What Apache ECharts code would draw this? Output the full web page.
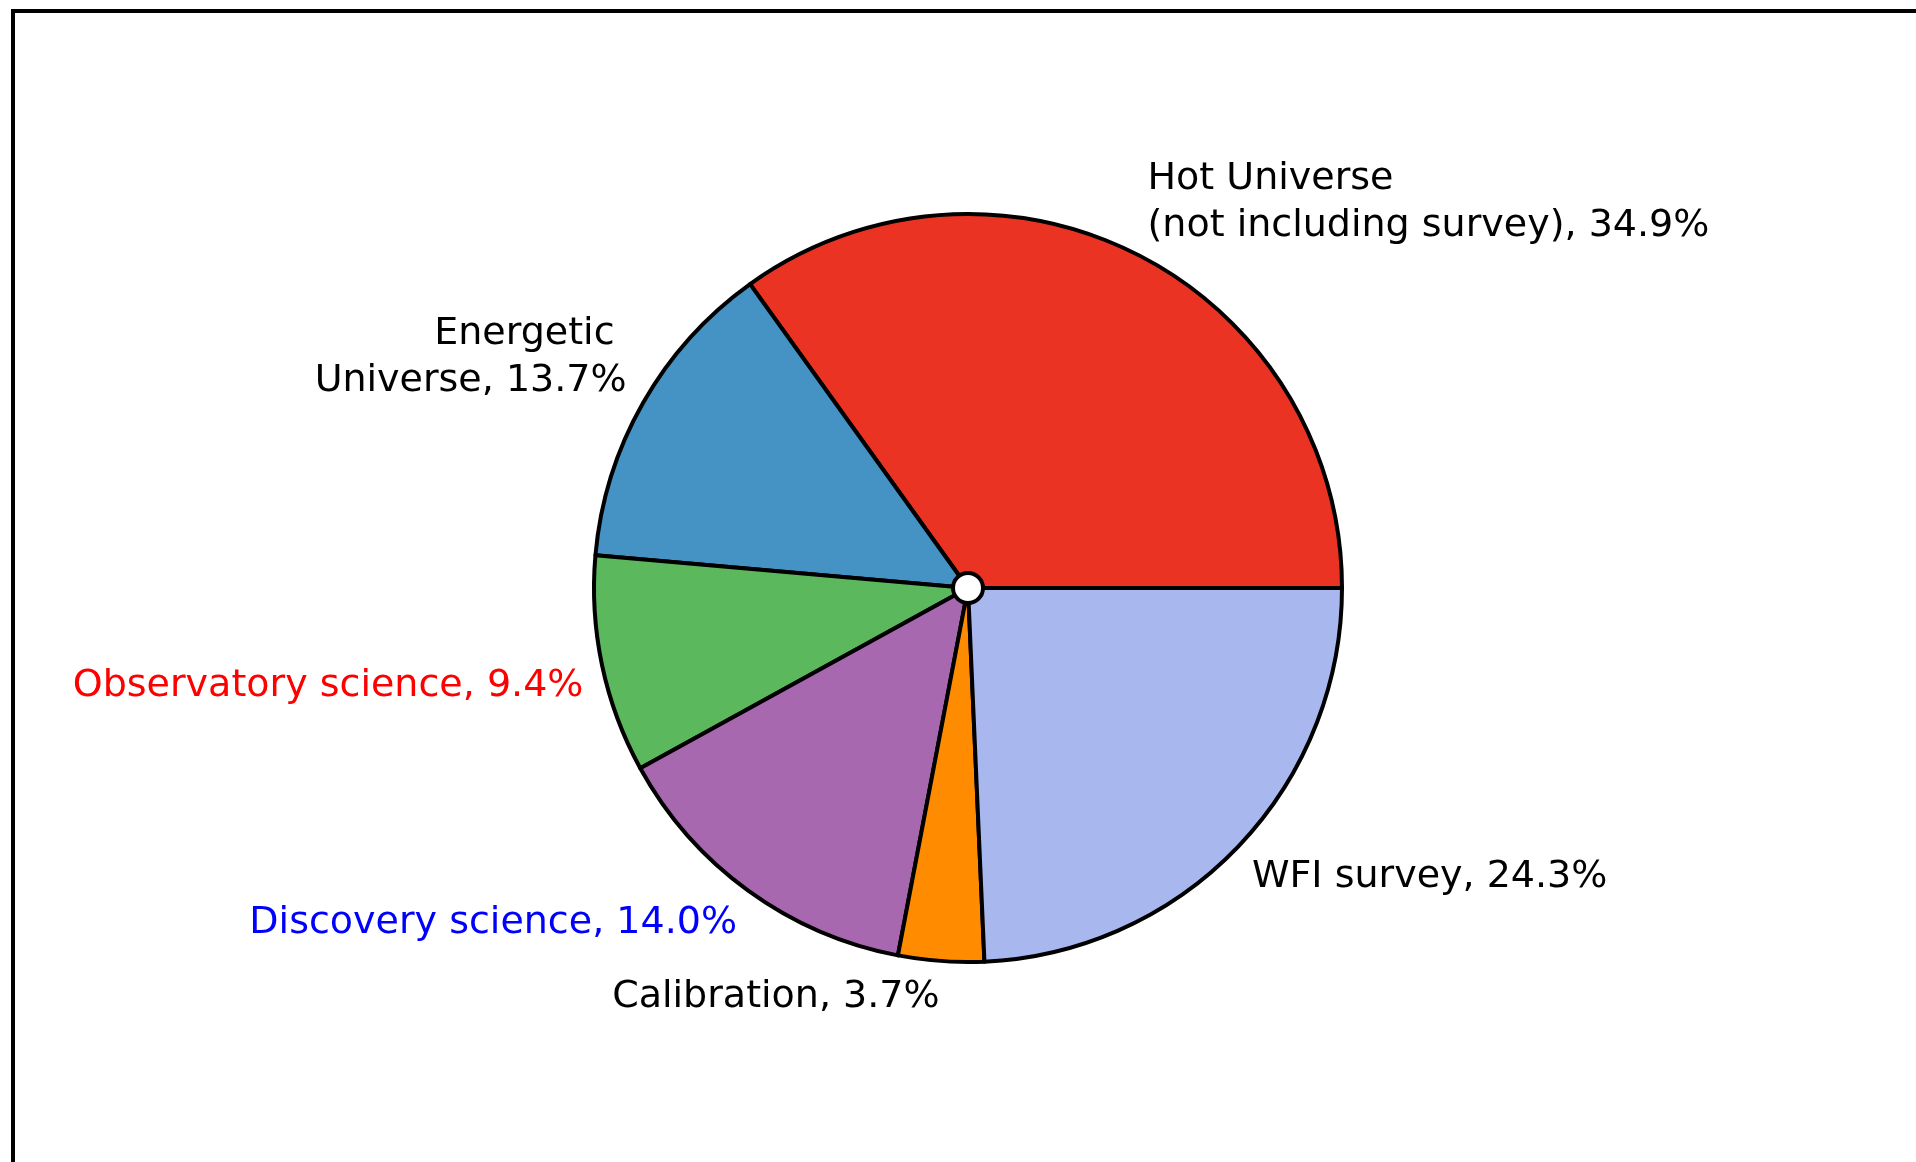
<!DOCTYPE html>
<html>
<head>
<meta charset="utf-8">
<script src="https://cdn.jsdelivr.net/npm/echarts@6/dist/echarts.min.js"></script>
<style>
  html, body { margin: 0; padding: 0; background: #fff; }
  #chart { width: 1916px; height: 1162px; }
</style>
</head>
<body>
<div id="chart"></div>
<script>
// slices, counter-clockwise from 3 o'clock
const names = [
    'Hot Universe\n(not including survey)',
    'Energetic \nUniverse',
    'Observatory science',
    'Discovery science',
    'Calibration',
    'WFI survey'
];
const shares = [34.9, 13.7, 9.4, 14.0, 3.7, 24.3];
const sliceColors = ['#ea3323', '#4592c4', '#5cb85c', '#a868b0', '#ff8c00', '#a8b8ee'];
const labelColors = ['#000', '#000', '#ff0000', '#0000ff', '#000', '#000'];

let chart = echarts.init(document.getElementById('chart'));

const data = names.map((n, i) => ({
    name: n,
    value: shares[i],
    itemStyle: {color: sliceColors[i]},
    label: {color: labelColors[i]}
}));

chart.setOption({
    backgroundColor: '#fff',
    animation: false,
    graphic: [{
        type: 'rect',
        shape: {x: 13, y: 11, width: 2000, height: 1300},
        style: {fill: 'none', stroke: '#000', lineWidth: 4},
        silent: true
    }],
    series: [{
        type: 'pie',
        center: [968, 588],
        radius: 374,
        startAngle: 0,
        clockwise: false,
        avoidLabelOverlap: false,
        itemStyle: {borderColor: '#000', borderWidth: 4},
        label: {
            show: true,
            position: 'outside',
            formatter: p => p.name + ', ' + p.value.toFixed(1) + '%',
            fontFamily: 'DejaVu Sans',
            fontSize: 38,
            lineHeight: 47,
            distanceToLabelLine: 0
        },
        labelLine: {show: false, length: 19, length2: 0},
        // matplotlib-like vertical nudge of the labels
        labelLayout: p => ({
            hideOverlap: false,
            dy: names[p.dataIndex].indexOf('\n') >= 0 ? -36 : 17
        }),
        emphasis: {disabled: true},
        data: data
    }, {
        type: 'pie',
        center: [968, 588],
        radius: 15,
        silent: true,
        label: {show: false},
        labelLine: {show: false},
        itemStyle: {color: '#fff', borderColor: '#000', borderWidth: 4},
        data: [{value: 1, name: 'hub'}]
    }]
});
</script>
</body>
</html>
